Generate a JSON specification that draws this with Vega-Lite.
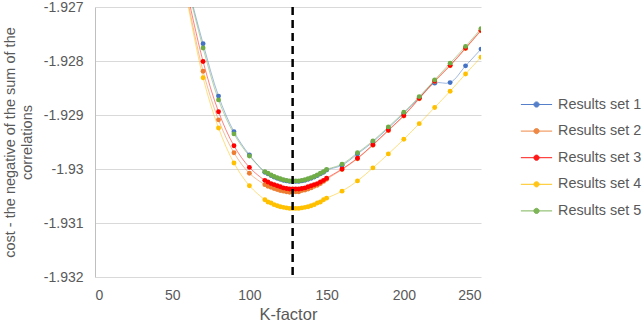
{
  "$schema": "https://vega.github.io/schema/vega-lite/v6.json",
  "width": 386,
  "height": 270,
  "autosize": {"type": "none"},
  "padding": {"left": 95, "top": 7, "right": 161, "bottom": 47},
  "background": "white",
  "config": {
    "view": {"stroke": null},
    "font": "Liberation Sans",
    "axis": {
      "labelColor": "#595959",
      "titleColor": "#595959",
      "labelFontSize": 14,
      "titleFontSize": 14.5,
      "titleFontWeight": "normal",
      "gridColor": "#D9D9D9",
      "domainColor": "#BFBFBF",
      "ticks": false
    }
  },
  "data": {
    "values": [
      {"K": 60, "Results set 1": -1.9266, "Results set 2": -1.92687, "Results set 3": -1.92677, "Results set 4": -1.92693, "Results set 5": -1.92663},
      {"K": 70, "Results set 1": -1.92768, "Results set 2": -1.92819, "Results set 3": -1.92801, "Results set 4": -1.92831, "Results set 5": -1.92776},
      {"K": 80, "Results set 1": -1.92865, "Results set 2": -1.92909, "Results set 3": -1.92894, "Results set 4": -1.92924, "Results set 5": -1.92872},
      {"K": 90, "Results set 1": -1.92931, "Results set 2": -1.9297, "Results set 3": -1.92957, "Results set 4": -1.92989, "Results set 5": -1.92935},
      {"K": 100, "Results set 1": -1.92974, "Results set 2": -1.93008, "Results set 3": -1.92997, "Results set 4": -1.93031, "Results set 5": -1.92976},
      {"K": 110, "Results set 1": -1.93006, "Results set 2": -1.93029, "Results set 3": -1.93021, "Results set 4": -1.93057, "Results set 5": -1.93005},
      {"K": 112, "Results set 1": -1.93009, "Results set 2": -1.93032, "Results set 3": -1.93024, "Results set 4": -1.93061, "Results set 5": -1.93008},
      {"K": 114, "Results set 1": -1.93012, "Results set 2": -1.93034, "Results set 3": -1.93027, "Results set 4": -1.93063, "Results set 5": -1.93011},
      {"K": 116, "Results set 1": -1.93015, "Results set 2": -1.93036, "Results set 3": -1.93029, "Results set 4": -1.93066, "Results set 5": -1.93014},
      {"K": 118, "Results set 1": -1.93017, "Results set 2": -1.93038, "Results set 3": -1.93031, "Results set 4": -1.93068, "Results set 5": -1.93016},
      {"K": 120, "Results set 1": -1.93019, "Results set 2": -1.9304, "Results set 3": -1.93033, "Results set 4": -1.9307, "Results set 5": -1.93018},
      {"K": 122, "Results set 1": -1.93021, "Results set 2": -1.93041, "Results set 3": -1.93035, "Results set 4": -1.93071, "Results set 5": -1.9302},
      {"K": 124, "Results set 1": -1.93022, "Results set 2": -1.93042, "Results set 3": -1.93036, "Results set 4": -1.93072, "Results set 5": -1.93021},
      {"K": 126, "Results set 1": -1.93023, "Results set 2": -1.93043, "Results set 3": -1.93037, "Results set 4": -1.93073, "Results set 5": -1.93022},
      {"K": 128, "Results set 1": -1.93023, "Results set 2": -1.93042, "Results set 3": -1.93037, "Results set 4": -1.93073, "Results set 5": -1.93022},
      {"K": 130, "Results set 1": -1.93023, "Results set 2": -1.93042, "Results set 3": -1.93037, "Results set 4": -1.93073, "Results set 5": -1.93022},
      {"K": 132, "Results set 1": -1.93023, "Results set 2": -1.93042, "Results set 3": -1.93037, "Results set 4": -1.93073, "Results set 5": -1.93022},
      {"K": 134, "Results set 1": -1.93022, "Results set 2": -1.9304, "Results set 3": -1.93036, "Results set 4": -1.93072, "Results set 5": -1.93021},
      {"K": 136, "Results set 1": -1.93021, "Results set 2": -1.93039, "Results set 3": -1.93035, "Results set 4": -1.93071, "Results set 5": -1.9302},
      {"K": 138, "Results set 1": -1.93019, "Results set 2": -1.93037, "Results set 3": -1.93033, "Results set 4": -1.9307, "Results set 5": -1.93018},
      {"K": 140, "Results set 1": -1.93017, "Results set 2": -1.93035, "Results set 3": -1.93031, "Results set 4": -1.93068, "Results set 5": -1.93016},
      {"K": 142, "Results set 1": -1.93015, "Results set 2": -1.93032, "Results set 3": -1.93029, "Results set 4": -1.93066, "Results set 5": -1.93014},
      {"K": 144, "Results set 1": -1.93012, "Results set 2": -1.9303, "Results set 3": -1.93027, "Results set 4": -1.93063, "Results set 5": -1.93011},
      {"K": 146, "Results set 1": -1.93009, "Results set 2": -1.93027, "Results set 3": -1.93024, "Results set 4": -1.93061, "Results set 5": -1.93008},
      {"K": 148, "Results set 1": -1.93006, "Results set 2": -1.93023, "Results set 3": -1.93021, "Results set 4": -1.93057, "Results set 5": -1.93005},
      {"K": 150, "Results set 1": -1.93002, "Results set 2": -1.93019, "Results set 3": -1.93017, "Results set 4": -1.93054, "Results set 5": -1.93001},
      {"K": 160, "Results set 1": -1.92993, "Results set 2": -1.93001, "Results set 3": -1.93, "Results set 4": -1.93041, "Results set 5": -1.92991},
      {"K": 170, "Results set 1": -1.92972, "Results set 2": -1.92981, "Results set 3": -1.9298, "Results set 4": -1.93022, "Results set 5": -1.9297},
      {"K": 180, "Results set 1": -1.9295, "Results set 2": -1.92956, "Results set 3": -1.92955, "Results set 4": -1.92998, "Results set 5": -1.92948},
      {"K": 190, "Results set 1": -1.92924, "Results set 2": -1.92929, "Results set 3": -1.92928, "Results set 4": -1.92972, "Results set 5": -1.92922},
      {"K": 200, "Results set 1": -1.92897, "Results set 2": -1.92902, "Results set 3": -1.92901, "Results set 4": -1.92945, "Results set 5": -1.92895},
      {"K": 210, "Results set 1": -1.92868, "Results set 2": -1.9287, "Results set 3": -1.92869, "Results set 4": -1.92916, "Results set 5": -1.92866},
      {"K": 220, "Results set 1": -1.92841, "Results set 2": -1.92838, "Results set 3": -1.92837, "Results set 4": -1.92886, "Results set 5": -1.92835},
      {"K": 230, "Results set 1": -1.9284, "Results set 2": -1.92809, "Results set 3": -1.92808, "Results set 4": -1.92856, "Results set 5": -1.92804},
      {"K": 240, "Results set 1": -1.92809, "Results set 2": -1.92777, "Results set 3": -1.92776, "Results set 4": -1.92824, "Results set 5": -1.92773},
      {"K": 250, "Results set 1": -1.92778, "Results set 2": -1.92744, "Results set 3": -1.92743, "Results set 4": -1.92793, "Results set 5": -1.9274}
    ]
  },
  "layer": [
    {
      "transform": [
        {"fold": ["Results set 1", "Results set 2", "Results set 3", "Results set 4", "Results set 5"], "as": ["series", "cost"]}
      ],
      "encoding": {
        "x": {
          "field": "K",
          "type": "quantitative",
          "scale": {"domain": [0, 250], "nice": false},
          "axis": {"values": [0, 50, 100, 150, 200, 250], "grid": false, "domain": false, "labelPadding": 11, "titlePadding": 4, "titleFontSize": 16.5, "title": "K-factor"}
        },
        "y": {
          "field": "cost",
          "type": "quantitative",
          "scale": {"domain": [-1.932, -1.927], "nice": false, "zero": false},
          "axis": {
            "values": [-1.932, -1.931, -1.93, -1.929, -1.928, -1.927],
            "labelExpr": "replace(format(datum.value, '.4~r'), '\u2212', '-')",
            "labelPadding": 12,
            "titlePadding": 9,
            "title": ["cost - the negative of the sum of the", "correlations"]
          }
        },
        "color": {
          "field": "series",
          "type": "nominal",
          "scale": {
            "domain": ["Results set 1", "Results set 2", "Results set 3", "Results set 4", "Results set 5"],
            "range": ["#4472C4", "#ED7D31", "#FF0000", "#FFC000", "#70AD47"]
          },
          "legend": {
            "orient": "none",
            "legendX": 428,
            "legendY": 84,
            "title": null,
            "padding": 0,
            "symbolType": "M-1.2,0H1.2M-0.2,0A0.2,0.2,0,1,1,0.2,0A0.2,0.2,0,1,1,-0.2,0Z",
            "symbolSize": 676,
            "symbolStrokeWidth": 1,
            "symbolOpacity": 0.9,
            "labelFontSize": 14.4,
            "labelColor": "#595959",
            "labelOffset": 8,
            "rowPadding": 6.6
          }
        }
      },
      "layer": [
        {
          "mark": {"type": "line", "interpolate": "catmull-rom", "clip": true, "strokeWidth": 1, "opacity": 0.5}
        },
        {
          "mark": {"type": "point", "filled": true, "size": 24, "opacity": 1, "clip": true},
          "encoding": {"order": {"field": "series"}}
        }
      ]
    },
    {
      "data": {"values": [{"K": 128}]},
      "mark": {"type": "rule", "strokeDash": [8, 5], "strokeWidth": 2.5, "color": "black"},
      "encoding": {"x": {"field": "K", "type": "quantitative"}}
    }
  ]
}
